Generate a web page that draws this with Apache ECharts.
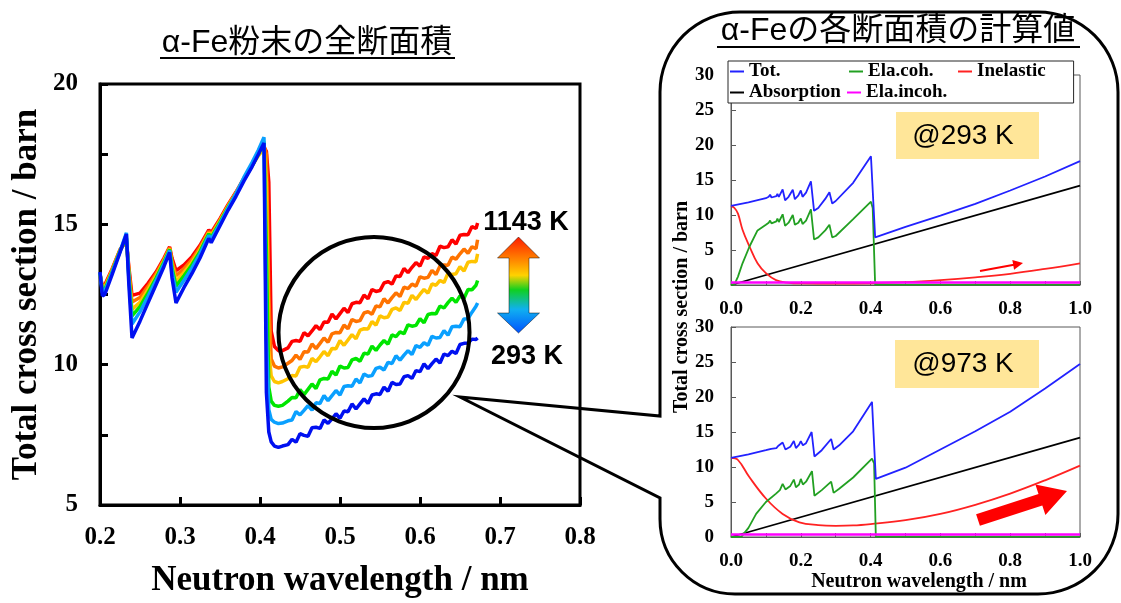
<!DOCTYPE html>
<html>
<head>
<meta charset="utf-8">
<script src="https://cdn.jsdelivr.net/npm/echarts@6/dist/echarts.min.js"></script>
<style>
  html, body { margin: 0; padding: 0; background: #fff; }
  #plot { width: 1121px; height: 603px; }
</style>
</head>
<body>
<div id="plot"></div>
<script>
// ---------- measured total cross section (left panel) ----------
const lamLeft = [0.200, 0.203, 0.206, 0.215, 0.225, 0.233, 0.236, 0.240, 0.250, 0.260,
  0.270, 0.280, 0.287, 0.290, 0.295, 0.305, 0.315, 0.325, 0.336, 0.339,
  0.350, 0.360, 0.370, 0.380, 0.390, 0.398, 0.405, 0.408, 0.411, 0.414,
  0.418, 0.423, 0.428, 0.435,
  0.44, 0.445, 0.45, 0.455, 0.46, 0.465, 0.47, 0.475, 0.48, 0.485,
  0.49, 0.495, 0.5, 0.505, 0.51, 0.515, 0.52, 0.525, 0.53, 0.535,
  0.54, 0.545, 0.55, 0.555, 0.56, 0.565, 0.57, 0.575, 0.58, 0.585,
  0.59, 0.595, 0.6, 0.605, 0.61, 0.615, 0.62, 0.625, 0.63, 0.635,
  0.64, 0.645, 0.65, 0.655, 0.66, 0.665, 0.67, 0.672];

const sig1143 = [13.2, 12.8, 12.85, 13.4, 14.1, 14.4, 13.5, 12.47, 12.55, 12.9,
  13.3, 13.8, 14.2, 13.8, 13.35, 13.55, 13.85, 14.25, 14.8, 14.7,
  15.2, 15.7, 16.15, 16.65, 17.1, 17.5, 17.75, 17.6, 16.5, 11.2,
  10.65, 10.5, 10.5, 10.6,
  10.83, 10.86, 10.83, 11.14, 11.03, 11.2, 11.39, 11.25, 11.52, 11.51,
  11.8, 11.63, 11.82, 12.01, 11.86, 12.17, 12.22, 12.21, 12.48, 12.35,
  12.68, 12.61, 12.64, 12.91, 12.96, 12.87, 13.16, 13.14, 13.43, 13.28,
  13.47, 13.64, 13.51, 13.84, 13.79, 13.96, 13.89, 14.22, 14.17, 14.2,
  14.45, 14.3, 14.61, 14.64, 14.63, 14.92, 14.85, 15.05];
const sigOrange = [13.22, 12.74, 12.79, 13.37, 14.08, 14.44, 13.4, 12.23, 12.39, 12.79,
  13.23, 13.75, 14.17, 13.69, 13.17, 13.42, 13.75, 14.18, 14.75, 14.64,
  15.16, 15.67, 16.13, 16.63, 17.09, 17.5, 17.8, 17.5, 12.5, 10.2,
  9.95, 9.88, 9.92, 10.05,
  10.15, 10.34, 10.19, 10.46, 10.45, 10.74, 10.57, 10.76, 10.95, 10.8,
  11.1, 11.15, 11.14, 11.41, 11.28, 11.61, 11.54, 11.57, 11.84, 11.89,
  11.8, 12.09, 12.06, 12.35, 12.2, 12.39, 12.56, 12.43, 12.76, 12.71,
  12.87, 12.8, 13.13, 13.08, 13.11, 13.36, 13.21, 13.52, 13.55, 13.54,
  13.83, 13.76, 13.95, 14.12, 13.97, 14.2, 14.13, 14.45];
const sigYellow = [13.23, 12.68, 12.73, 13.33, 14.07, 14.48, 13.3, 11.97, 12.22, 12.67,
  13.15, 13.7, 14.13, 13.57, 12.97, 13.29, 13.65, 14.1, 14.7, 14.58,
  15.12, 15.63, 16.1, 16.62, 17.08, 17.45, 17.7, 16.5, 10.5, 9.6,
  9.4, 9.35, 9.4, 9.5,
  9.61, 9.6, 9.91, 9.94, 9.91, 10.22, 10.11, 10.28, 10.47, 10.32,
  10.58, 10.57, 10.86, 10.69, 10.88, 11.07, 10.92, 11.23, 11.28, 11.27,
  11.54, 11.41, 11.74, 11.67, 11.7, 11.97, 12.02, 11.93, 12.22, 12.19,
  12.47, 12.32, 12.51, 12.68, 12.55, 12.88, 12.83, 13.0, 12.93, 13.26,
  13.21, 13.24, 13.49, 13.34, 13.65, 13.68, 13.67, 13.95];
const sigGreen = [13.25, 12.63, 12.68, 13.3, 14.05, 14.52, 13.21, 11.74, 12.07, 12.56,
  13.08, 13.66, 14.1, 13.46, 12.8, 13.17, 13.56, 14.03, 14.66, 14.53,
  15.08, 15.6, 16.08, 16.6, 17.08, 17.5, 17.95, 14.0, 9.2, 8.7,
  8.55, 8.52, 8.55, 8.7,
  8.83, 8.82, 9.11, 8.93, 9.12, 9.31, 9.15, 9.46, 9.51, 9.49,
  9.76, 9.63, 9.95, 9.88, 9.9, 10.17, 10.22, 10.12, 10.41, 10.38,
  10.66, 10.51, 10.7, 10.86, 10.73, 11.06, 11.0, 11.17, 11.1, 11.42,
  11.37, 11.4, 11.64, 11.49, 11.79, 11.82, 11.81, 12.09, 12.02, 12.21,
  12.37, 12.22, 12.45, 12.37, 12.68, 12.67, 12.83, 13.0];
const sigSky = [13.27, 12.57, 12.62, 13.27, 14.03, 14.7, 13.1, 11.45, 11.88, 12.43,
  13.0, 13.6, 14.07, 13.33, 12.58, 13.01, 13.45, 13.95, 14.6, 14.47,
  15.03, 15.57, 16.1, 16.68, 17.2, 17.65, 18.1, 11.0, 8.4, 8.05,
  7.95, 7.9, 7.92, 8.0,
  8.03, 8.33, 8.21, 8.37, 8.54, 8.38, 8.64, 8.62, 8.9, 8.72,
  8.9, 9.08, 8.92, 9.22, 9.25, 9.23, 9.49, 9.35, 9.67, 9.59,
  9.61, 9.87, 9.91, 9.81, 10.08, 10.04, 10.32, 10.16, 10.34, 10.5,
  10.36, 10.68, 10.62, 10.78, 10.69, 11.01, 10.95, 10.97, 11.21, 11.05,
  11.35, 11.37, 11.35, 11.63, 11.64, 11.87, 12.08, 12.2];
const sig293 = [13.3, 12.45, 12.5, 13.2, 14.0, 14.65, 12.9, 10.95, 11.55, 12.2,
  12.85, 13.5, 14.0, 13.1, 12.2, 12.75, 13.25, 13.8, 14.5, 14.35,
  14.95, 15.5, 16.0, 16.55, 17.05, 17.5, 17.9, 9.0, 7.6, 7.25,
  7.1, 7.05, 7.1, 7.15,
  7.34, 7.24, 7.54, 7.48, 7.45, 7.75, 7.77, 7.73, 8.03, 7.91,
  8.07, 8.25, 8.09, 8.35, 8.32, 8.6, 8.42, 8.6, 8.78, 8.62,
  8.92, 8.96, 8.94, 9.2, 9.05, 9.37, 9.29, 9.31, 9.57, 9.61,
  9.51, 9.79, 9.75, 10.03, 9.86, 10.04, 10.2, 10.06, 10.38, 10.32,
  10.48, 10.4, 10.72, 10.76, 10.77, 10.91, 10.9, 10.95];

// ---------- calculated cross sections (right panels), [wavelength, barn] ----------
const tot293 = [[0, 11.3], [0.05, 11.8], [0.1, 12.4], [0.108, 12.6], [0.112, 12.9], [0.116, 12.5],
  [0.13, 12.7], [0.133, 13.0], [0.137, 12.6], [0.148, 13.65], [0.155, 12.1], [0.165, 12.6],
  [0.177, 13.6], [0.183, 12.25], [0.193, 12.8], [0.2, 13.5], [0.205, 12.6], [0.215, 13.2],
  [0.229, 14.8], [0.238, 10.6], [0.25, 11.0], [0.27, 12.3], [0.282, 13.25], [0.29, 11.65],
  [0.3, 12.0], [0.35, 14.6], [0.401, 18.4], [0.413, 6.8], [0.5, 8.3], [0.6, 9.9],
  [0.7, 11.6], [0.8, 13.5], [0.9, 15.5], [1.0, 17.7]];
const coh293 = [[0, 0], [0.01, 0.1], [0.02, 1.2], [0.033, 3.1], [0.053, 5.5], [0.076, 7.8],
  [0.1, 8.6], [0.108, 8.9], [0.112, 9.2], [0.116, 8.8], [0.13, 9.1], [0.133, 9.5],
  [0.137, 9.0], [0.148, 10.1], [0.155, 8.45], [0.165, 8.9], [0.177, 10.0], [0.183, 8.6],
  [0.193, 8.9], [0.2, 9.5], [0.205, 8.7], [0.215, 9.2], [0.229, 10.8], [0.238, 6.5],
  [0.25, 6.8], [0.27, 7.8], [0.282, 8.6], [0.29, 6.8], [0.3, 7.0], [0.35, 9.4],
  [0.401, 11.9], [0.406, 11.0], [0.413, 0.05], [1.0, 0.05]];
const inel293 = [[0, 11.3], [0.01, 11.0], [0.02, 10.2], [0.033, 7.9], [0.053, 5.5], [0.076, 3.1],
  [0.1, 1.7], [0.129, 0.7], [0.16, 0.35], [0.2, 0.22], [0.3, 0.2], [0.4, 0.25],
  [0.5, 0.4], [0.6, 0.7], [0.7, 1.1], [0.8, 1.6], [0.9, 2.3], [1.0, 3.1]];
const abs293 = [[0, 0], [1.0, 14.2]];
const incoh293 = [[0, 0.35], [1.0, 0.35]];

const tot973 = [[0, 11.3], [0.05, 11.8], [0.1, 12.4], [0.115, 12.6], [0.13, 12.7], [0.135, 13.0],
  [0.14, 12.8], [0.148, 13.5], [0.156, 12.5], [0.17, 12.9], [0.18, 13.7], [0.186, 12.7],
  [0.195, 13.2], [0.2, 13.7], [0.206, 13.1], [0.215, 13.4], [0.231, 15.0], [0.239, 11.5],
  [0.26, 12.4], [0.287, 14.0], [0.294, 12.5], [0.31, 13.1], [0.35, 15.1], [0.404, 19.3],
  [0.415, 8.3], [0.5, 9.9], [0.6, 12.5], [0.7, 15.1], [0.8, 17.9], [0.9, 21.2], [1.0, 24.7]];
const coh973 = [[0, 0], [0.03, 0.05], [0.05, 1.3], [0.072, 3.3], [0.1, 5.0], [0.129, 6.2],
  [0.14, 6.7], [0.148, 7.6], [0.156, 6.8], [0.17, 7.3], [0.18, 8.2], [0.186, 7.1],
  [0.195, 7.5], [0.2, 8.3], [0.206, 7.5], [0.215, 7.9], [0.232, 9.4], [0.239, 5.9],
  [0.26, 6.7], [0.287, 7.9], [0.294, 6.3], [0.31, 6.9], [0.35, 8.5], [0.404, 11.2],
  [0.41, 10.5], [0.415, 0.05], [1.0, 0.05]];
const inel973 = [[0, 11.3], [0.02, 11.0], [0.052, 8.6], [0.1, 5.5], [0.148, 3.3], [0.196, 2.1],
  [0.25, 1.7], [0.3, 1.6], [0.35, 1.65], [0.4, 1.85], [0.5, 2.4], [0.6, 3.3],
  [0.7, 4.6], [0.8, 6.2], [0.9, 8.1], [1.0, 10.2]];
const abs973 = [[0, 0], [1.0, 14.2]];
const incoh973 = [[0, 0.35], [1.0, 0.35]];

// Fonts
const serif = "'Liberation Serif', 'Times New Roman', serif";
const sans = "'Liberation Sans', Arial, sans-serif";
const jp = "'Liberation Sans', 'Noto Sans CJK JP', sans-serif";

function zip(xs, ys) {
  return xs.map((x, i) => [x, ys[i]]);
}

// Left panel curves, drawn hot first so that 293 K sits on top
const leftCurves = [
  { name: '1143 K', data: sig1143, color: '#ff0000' },
  { name: 'T5', data: sigOrange, color: '#ff7300' },
  { name: 'T4', data: sigYellow, color: '#ffc400' },
  { name: 'T3', data: sigGreen, color: '#00e600' },
  { name: 'T2', data: sigSky, color: '#0aa0ff' },
  { name: '293 K', data: sig293, color: '#0010f0' }
];

const calcColors = {
  'Tot.': '#2222ff',
  'Ela.coh.': '#22a022',
  'Inelastic': '#ff2222',
  'Absorption': '#000000',
  'Ela.incoh.': '#ff00ff'
};

function calcSeries(idx, sets) {
  return sets.map(s => ({
    name: s[0],
    type: 'line',
    xAxisIndex: idx,
    yAxisIndex: idx,
    data: s[1],
    showSymbol: false,
    smooth: s[0] === 'Inelastic' ? 0.4 : false,
    color: calcColors[s[0]],
    lineStyle: { width: s[0] === 'Ela.incoh.' ? 2.5 : 1.8 }
  }));
}

function rightX(idx) {
  return {
    gridIndex: idx, type: 'value', min: 0, max: 1, interval: 0.1,
    axisLine: { lineStyle: { color: '#595959', width: 1 } },
    axisTick: { inside: true, length: 4, lineStyle: { color: '#595959' } },
    axisLabel: {
      margin: 15, fontFamily: serif, fontWeight: 'bold', fontSize: 19, color: '#000',
      formatter: v => { const k = Math.round(v * 10); return k % 2 === 0 ? (k / 10).toFixed(1) : ''; }
    },
    splitLine: { show: false }
  };
}
function rightY(idx) {
  return {
    gridIndex: idx, type: 'value', min: 0, max: 30, interval: 5,
    axisLine: { lineStyle: { color: '#595959', width: 1 } },
    axisTick: { inside: true, length: 5, lineStyle: { color: '#595959' } },
    axisLabel: { margin: 17, fontFamily: serif, fontWeight: 'bold', fontSize: 19, color: '#000' },
    splitLine: { show: false }
  };
}

function label(x, y, text, font, extra) {
  return Object.assign({
    type: 'text', x: x, y: y, z: 100,
    style: { text: text, font: font, fill: '#000',
      textAlign: 'center', textVerticalAlign: 'middle', align: 'center', verticalAlign: 'middle' }
  }, extra || {});
}
function seg(x1, y1, x2, y2, color, w) {
  return { type: 'line', z: 100, shape: { x1: x1, y1: y1, x2: x2, y2: y2 },
    style: { stroke: color, lineWidth: w } };
}
function corner(cx, cy, r, a0, a1) {
  return { type: 'arc', z: 100, shape: { cx: cx, cy: cy, r: r, startAngle: a0, endAngle: a1, clockwise: true },
    style: { fill: 'none', stroke: '#000', lineWidth: 3 } };
}

const chart = echarts.init(document.getElementById('plot'));

const option = {
  animation: false,
  backgroundColor: '#fff',
  grid: [
    { left: 100, right: 541, top: 84, bottom: 89, show: true, borderColor: '#000', borderWidth: 3 },
    { left: 731, right: 41, top: 75, bottom: 318, show: true, borderColor: '#595959', borderWidth: 1 },
    { left: 731, right: 41, top: 327, bottom: 66, show: true, borderColor: '#595959', borderWidth: 1 }
  ],
  xAxis: [
    {
      gridIndex: 0, type: 'value', min: 0.2, max: 0.8, interval: 0.1,
      axisLine: { lineStyle: { color: '#000', width: 3 } },
      axisTick: { inside: true, length: 8, lineStyle: { color: '#000', width: 3 } },
      axisLabel: { margin: 20, fontFamily: serif, fontWeight: 'bold', fontSize: 25, color: '#000',
        formatter: v => v.toFixed(1) },
      splitLine: { show: false },
      name: 'Neutron wavelength / nm', nameLocation: 'middle', nameGap: 58,
      nameTextStyle: { fontFamily: serif, fontWeight: 'bold', fontSize: 35, color: '#000' }
    },
    rightX(1),
    rightX(2)
  ],
  yAxis: [
    {
      gridIndex: 0, type: 'value', min: 5, max: 20, interval: 2.5,
      axisLine: { lineStyle: { color: '#000', width: 3 } },
      axisTick: { inside: true, length: 8, lineStyle: { color: '#000', width: 3 } },
      axisLabel: { margin: 22, fontFamily: serif, fontWeight: 'bold', fontSize: 25, color: '#000',
        formatter: v => (v % 5 === 0 ? String(v) : '') },
      splitLine: { show: false },
      name: 'Total cross section / barn', nameLocation: 'middle', nameGap: 56,
      nameTextStyle: { fontFamily: serif, fontWeight: 'bold', fontSize: 35, color: '#000' }
    },
    rightY(1),
    rightY(2)
  ],
  legend: {
    left: 728, top: 61, orient: 'horizontal', width: 330,
    itemGap: 0, itemWidth: 14, itemHeight: 2, icon: 'rect',
    padding: [0, 28, 0, 2],
    borderColor: '#262626', borderWidth: 1, backgroundColor: '#fff',
    textStyle: { fontFamily: serif, fontWeight: 'bold', fontSize: 19, color: '#000', lineHeight: 21 },
    data: [
      { name: 'Tot.', textStyle: { width: 100 } },
      { name: 'Ela.coh.', textStyle: { width: 90 } },
      { name: 'Inelastic' },
      { name: 'Absorption', textStyle: { width: 98 } },
      { name: 'Ela.incoh.' }
    ]
  },
  series: [
    ...leftCurves.map(c => ({
      name: c.name, type: 'line', xAxisIndex: 0, yAxisIndex: 0,
      data: zip(lamLeft, c.data), showSymbol: false, color: c.color,
      lineStyle: { width: 3.5 }
    })),
    ...calcSeries(1, [['Absorption', abs293], ['Inelastic', inel293], ['Ela.coh.', coh293],
      ['Ela.incoh.', incoh293], ['Tot.', tot293]]),
    ...calcSeries(2, [['Absorption', abs973], ['Inelastic', inel973], ['Ela.coh.', coh973],
      ['Ela.incoh.', incoh973], ['Tot.', tot973]])
  ],
  graphic: [
    // titles
    label(307, 43, 'α-Fe粉末の全断面積', '32px ' + jp),
    seg(160, 58, 455, 58, '#000', 2),
    label(898, 31, 'α-Feの各断面積の計算値', '32px ' + jp),
    seg(717, 47, 1080, 47, '#000', 2),
    // temperature labels and gradient double arrow
    label(526, 223, '1143 K', 'bold 27px ' + sans),
    label(527, 357, '293 K', 'bold 27px ' + sans),
    { type: 'polygon', z: 100,
      shape: { points: [[518.5, 237], [497.5, 258], [509, 258], [509, 313], [497.5, 313], [518.5, 333],
        [539.5, 313], [529, 313], [529, 258], [539.5, 258]] },
      style: {
        fill: { type: 'linear', x: 0, y: 0, x2: 0, y2: 1, colorStops: [
          { offset: 0, color: '#ff1a00' }, { offset: 0.25, color: '#ff8a00' },
          { offset: 0.4, color: '#ffd200' }, { offset: 0.55, color: '#10d020' },
          { offset: 0.75, color: '#10b0f0' }, { offset: 1, color: '#0050ff' }] },
        stroke: 'rgba(0,0,0,0.45)', lineWidth: 1
      } },
    // zoom circle and callout panel
    { type: 'circle', z: 100, shape: { cx: 374, cy: 332.5, r: 95.5 },
      style: { fill: 'none', stroke: '#000', lineWidth: 4 } },
    { type: 'polyline', z: 100,
      shape: { points: [[660, 519], [660, 498], [460, 397], [660, 416], [660, 92]] },
      style: { fill: 'none', stroke: '#000', lineWidth: 3 } },
    seg(740, 12, 1038, 12, '#000', 3),
    seg(1118, 92, 1118, 514, '#000', 3),
    seg(1038, 594, 735, 594, '#000', 3),
    corner(740, 92, 80, Math.PI, Math.PI * 1.5),
    corner(1038, 92, 80, -Math.PI / 2, 0),
    corner(1038, 514, 80, 0, Math.PI / 2),
    corner(735, 519, 75, Math.PI / 2, Math.PI),
    // temperature boxes
    { type: 'rect', z: 90, shape: { x: 896, y: 112, width: 143, height: 47 }, style: { fill: '#ffe699' } },
    label(963, 136, '@293 K', '28px ' + sans),
    { type: 'rect', z: 90, shape: { x: 895, y: 340, width: 144, height: 48 }, style: { fill: '#ffe699' } },
    label(963, 364, '@973 K', '28px ' + sans),
    // red trend arrows
    seg(980, 271, 1014, 264.8, '#ff0000', 2),
    { type: 'polygon', z: 100, shape: { points: [[1023, 263], [1014.1, 269.7], [1012.3, 259.9]] },
      style: { fill: '#ff0000' } },
    { type: 'polygon', z: 100,
      shape: { points: [[976.1, 514.3], [1038.5, 494.0], [1035.4, 484.5], [1067, 491],
        [1045.4, 514.9], [1042.3, 505.4], [979.9, 525.7]] },
      style: { fill: '#ff0000' } },
    // shared axis names of the right panels
    label(682, 307, 'Total cross section / barn', 'bold 20px ' + serif, { rotation: Math.PI / 2 }),
    label(919, 582, 'Neutron wavelength / nm', 'bold 20px ' + serif)
  ]
};

chart.setOption(option);
</script>
</body>
</html>
